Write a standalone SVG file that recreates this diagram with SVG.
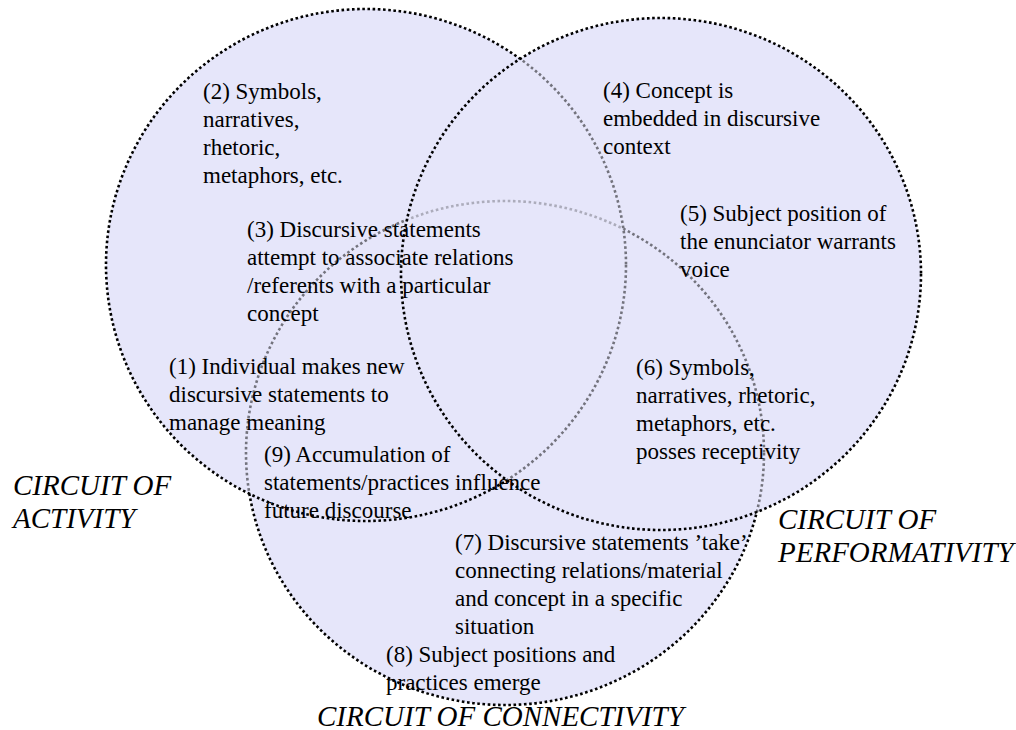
<svg xmlns="http://www.w3.org/2000/svg" width="1016" height="730" viewBox="0 0 1016 730">
<style>
.base{fill:#E6E6FA;stroke:none}
.veil{fill:#E6E6FA;fill-opacity:0.5;stroke:none}
.ring{fill:none;stroke:#000;stroke-width:2.6;stroke-dasharray:2.6 2.6}
.t{font-family:"Liberation Serif","Times New Roman",serif;font-size:23px;fill:#000}
.c{font-family:"Liberation Serif","Times New Roman",serif;font-size:29px;font-style:italic;fill:#000}
</style>
<rect width="1016" height="730" fill="#fff"/>
<g id="fills">
<ellipse class="base" cx="366" cy="265" rx="260" ry="256"/>
<ellipse class="base" cx="661" cy="274" rx="260" ry="256"/>
<ellipse class="base" cx="505" cy="453" rx="259" ry="252"/>
</g>
<g id="circuit-connectivity">
<ellipse class="ring" cx="505" cy="453" rx="259" ry="252"/>
</g>
<g id="circuit-activity">
<ellipse class="veil" cx="366" cy="265" rx="260" ry="256"/>
<ellipse class="ring" cx="366" cy="265" rx="260" ry="256"/>
</g>
<g id="circuit-performativity">
<ellipse class="veil" cx="661" cy="274" rx="260" ry="256"/>
<ellipse class="ring" cx="661" cy="274" rx="260" ry="256"/>
</g>
<g id="connectors"></g>
<g id="label-2"><text class="t" x="203" y="99">(2) Symbols,</text><text class="t" x="203" y="127">narratives,</text><text class="t" x="203" y="155">rhetoric,</text><text class="t" x="203" y="183">metaphors, etc.</text></g>
<g id="label-3"><text class="t" x="247" y="237">(3) Discursive statements</text><text class="t" x="247" y="265">attempt to associate relations</text><text class="t" x="247" y="293">/referents with a particular</text><text class="t" x="247" y="321">concept</text></g>
<g id="label-1"><text class="t" x="169" y="374">(1) Individual makes new</text><text class="t" x="169" y="402">discursive statements to</text><text class="t" x="169" y="430">manage meaning</text></g>
<g id="label-9"><text class="t" x="264" y="462">(9) Accumulation of</text><text class="t" x="264" y="490">statements/practices influence</text><text class="t" x="264" y="518">future discourse</text></g>
<g id="label-4"><text class="t" x="603" y="98">(4) Concept is</text><text class="t" x="603" y="126">embedded in discursive</text><text class="t" x="603" y="154">context</text></g>
<g id="label-5"><text class="t" x="680" y="221">(5) Subject position of</text><text class="t" x="680" y="249">the enunciator warrants</text><text class="t" x="680" y="277">voice</text></g>
<g id="label-6"><text class="t" x="636" y="375">(6) Symbols,</text><text class="t" x="636" y="403">narratives, rhetoric,</text><text class="t" x="636" y="431">metaphors, etc.</text><text class="t" x="636" y="459">posses receptivity</text></g>
<g id="label-7"><text class="t" x="455" y="550">(7) Discursive statements ’take’</text><text class="t" x="455" y="578">connecting relations/material</text><text class="t" x="455" y="606">and concept in a specific</text><text class="t" x="455" y="634">situation</text></g>
<g id="label-8"><text class="t" x="386" y="662">(8) Subject positions and</text><text class="t" x="386" y="690">practices emerge</text></g>
<g id="title-activity"><text class="c" x="13" y="495">CIRCUIT OF</text><text class="c" x="13" y="528">ACTIVITY</text></g>
<g id="title-performativity"><text class="c" x="778" y="529">CIRCUIT OF</text><text class="c" x="778" y="562">PERFORMATIVITY</text></g>
<g id="title-connectivity"><text class="c" x="317" y="726">CIRCUIT OF CONNECTIVITY</text></g>
</svg>
